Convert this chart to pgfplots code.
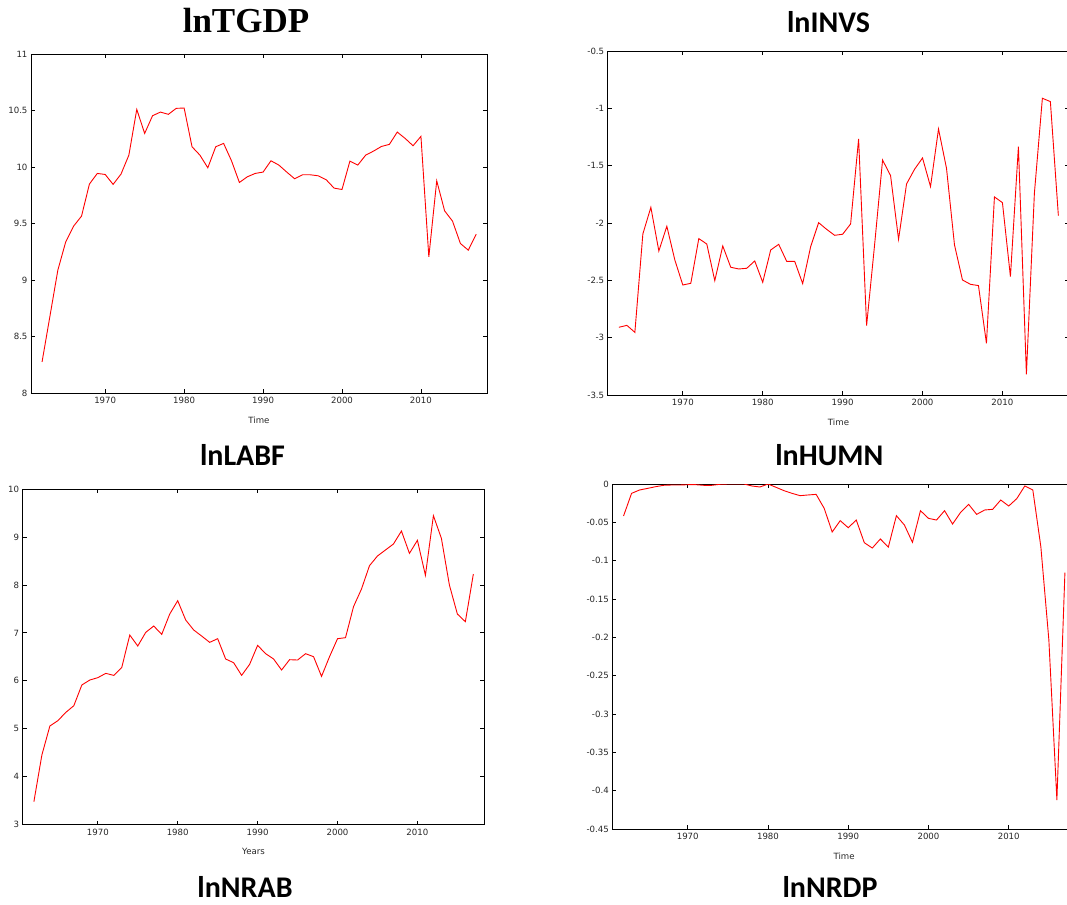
\documentclass[border=0pt]{standalone}
\usepackage{fontspec}
\setmainfont{DejaVu Sans}
\newfontfamily\titleserif{Liberation Serif}
\newfontfamily\titlesans{Carlito}
\usepackage{graphicx}
\usepackage{pgfplots}
\pgfplotsset{compat=1.18}
\pgfplotsset{gstyle/.style={
  scale only axis, anchor=north west,
  xmin=1960.6, xmax=2018.37,
  xtick={1970,1980,1990,2000,2010},
  xticklabels={1970,1980,1990,2000,2010},
  tick align=inside, major tick length=4pt,
  tick style={black, line width=0.8pt},
  axis line style={black, line width=0.9pt},
  tick label style={font=\fontsize{8.6}{9}\selectfont, text=black!85},
  xticklabel style={yshift=-1pt},
  xlabel style={font=\fontsize{8.6}{9}\selectfont, text=black!85, at={(axis description cs:0.5,0)}, anchor=center, yshift=-27pt},
  scaled ticks=false,
}}
\begin{document}
\begin{tikzpicture}
\useasboundingbox (0pt,0pt) rectangle (1067pt,-904pt);
% Panel 1: lnTGDP
\begin{axis}[gstyle, at={(31pt,-54pt)}, width=456pt, height=339pt,
  ymin=8, ymax=11, ytick={8,8.5,9,9.5,10,10.5,11},
  yticklabels={8,8.5,9,9.5,10,10.5,11}, xlabel={Time}]
\addplot[red, line width=0.9pt, no marks] table {
1962 8.275
1963 8.68
1964 9.087
1965 9.338
1966 9.477
1967 9.565
1968 9.849
1969 9.943
1970 9.934
1971 9.846
1972 9.937
1973 10.105
1974 10.51
1975 10.297
1976 10.454
1977 10.486
1978 10.466
1979 10.519
1980 10.522
1981 10.179
1982 10.105
1983 9.993
1984 10.179
1985 10.209
1986 10.055
1987 9.863
1988 9.913
1989 9.943
1990 9.955
1991 10.055
1992 10.017
1993 9.955
1994 9.896
1995 9.931
1996 9.931
1997 9.922
1998 9.887
1999 9.813
2000 9.801
2001 10.052
2002 10.017
2003 10.105
2004 10.141
2005 10.182
2006 10.2
2007 10.309
2008 10.253
2009 10.188
2010 10.271
2011 9.205
2012 9.878
2013 9.612
2014 9.521
2015 9.323
2016 9.264
2017 9.406
};
\end{axis}
% Panel 2: lnINVS
\begin{axis}[gstyle, at={(607.7pt,-51.3pt)}, width=461.6pt, height=343.7pt,
  ymin=-3.5, ymax=-0.5, ytick={-3.5,-3,-2.5,-2,-1.5,-1,-0.5},
  yticklabels={-3.5,-3,-2.5,-2,-1.5,-1,-0.5}, xlabel={Time}]
\addplot[red, line width=0.9pt, no marks] table {
1962 -2.909
1963 -2.892
1964 -2.953
1965 -2.094
1966 -1.862
1967 -2.243
1968 -2.027
1969 -2.321
1970 -2.540
1971 -2.525
1972 -2.135
1973 -2.182
1974 -2.502
1975 -2.199
1976 -2.385
1977 -2.400
1978 -2.394
1979 -2.330
1980 -2.516
1981 -2.234
1982 -2.185
1983 -2.333
1984 -2.333
1985 -2.528
1986 -2.205
1987 -1.996
1988 -2.054
1989 -2.106
1990 -2.097
1991 -2.007
1992 -1.265
1993 -2.895
1994 -2.19
1995 -1.449
1996 -1.585
1997 -2.141
1998 -1.658
1999 -1.530
2000 -1.431
2001 -1.681
2002 -1.178
2003 -1.521
2004 -2.190
2005 -2.496
2006 -2.534
2007 -2.545
2008 -3.049
2009 -1.771
2010 -1.821
2011 -2.467
2012 -1.332
2013 -3.319
2014 -1.739
2015 -0.910
2016 -0.939
2017 -1.934
};
\end{axis}
% Panel 3: lnNRAB
\begin{axis}[gstyle, at={(22.7pt,-489pt)}, width=461.6pt, height=335.7pt,
  ymin=3, ymax=10, ytick={3,4,5,6,7,8,9,10},
  yticklabels={3,4,5,6,7,8,9,10}, xlabel={Years}]
\addplot[red, line width=0.9pt, no marks] table {
1962 3.48
1963 4.453
1964 5.058
1965 5.169
1966 5.343
1967 5.482
1968 5.913
1969 6.017
1970 6.066
1971 6.156
1972 6.114
1973 6.281
1974 6.955
1975 6.726
1976 7.011
1977 7.143
1978 6.969
1979 7.393
1980 7.671
1981 7.268
1982 7.060
1983 6.934
1984 6.802
1985 6.879
1986 6.455
1987 6.378
1988 6.114
1989 6.344
1990 6.740
1991 6.566
1992 6.455
1993 6.226
1994 6.441
1995 6.434
1996 6.566
1997 6.504
1998 6.093
1999 6.504
2000 6.879
2001 6.900
2002 7.546
2003 7.915
2004 8.401
2005 8.603
2006 8.728
2007 8.853
2008 9.124
2009 8.658
2010 8.930
2011 8.200
2012 9.444
2013 8.971
2014 7.998
2015 7.393
2016 7.233
2017 8.227
};
\end{axis}
% Panel 4: lnNRDP
\begin{axis}[gstyle, at={(612.3pt,-484pt)}, width=463.6pt, height=345pt,
  ymin=-0.45, ymax=0, ytick={-0.45,-0.4,-0.35,-0.3,-0.25,-0.2,-0.15,-0.1,-0.05,0},
  yticklabels={-0.45,-0.4,-0.35,-0.3,-0.25,-0.2,-0.15,-0.1,-0.05,0}, xlabel={Time}]
\addplot[red, line width=0.9pt, no marks] table {
1962 -0.0417
1963 -0.0122
1964 -0.0078
1965 -0.0057
1966 -0.0035
1967 -0.0017
1968 -0.0013
1969 -0.0013
1970 -0.0009
1971 -0.0009
1972 -0.0017
1973 -0.0017
1974 -0.0004
1975 0
1976 0
1977 0
1978 -0.0026
1979 -0.0039
1980 0
1981 -0.0043
1982 -0.0087
1983 -0.0122
1984 -0.0152
1985 -0.0143
1986 -0.0135
1987 -0.0317
1988 -0.0626
1989 -0.0478
1990 -0.0570
1991 -0.0470
1992 -0.0765
1993 -0.0835
1994 -0.0717
1995 -0.0822
1996 -0.0413
1997 -0.0535
1998 -0.0761
1999 -0.0348
2000 -0.0448
2001 -0.0470
2002 -0.0348
2003 -0.0522
2004 -0.0370
2005 -0.0265
2006 -0.0396
2007 -0.0339
2008 -0.0330
2009 -0.0209
2010 -0.0287
2011 -0.0191
2012 -0.0026
2013 -0.0078
2014 -0.0817
2015 -0.2035
2016 -0.4122
2017 -0.1157
};
\end{axis}
% Titles
\node[anchor=base, inner sep=0pt] at (246pt,-33pt) {\titleserif\bfseries\fontsize{35}{35}\selectfont lnTGDP};
\node[anchor=base, inner sep=0pt] at (828.5pt,-32.3pt) {\titlesans\bfseries\fontsize{30}{30}\selectfont lnINVS};
\node[anchor=base, inner sep=0pt] at (242.5pt,-465pt) {\titlesans\bfseries\fontsize{30}{30}\selectfont lnLABF};
\node[anchor=base, inner sep=0pt] at (829.3pt,-465pt) {\titlesans\bfseries\fontsize{30}{30}\selectfont lnHUMN};
\node[anchor=base, inner sep=0pt] at (245pt,-897pt) {\titlesans\bfseries\fontsize{30}{30}\selectfont lnNRAB};
\node[anchor=base, inner sep=0pt] at (830pt,-897pt) {\titlesans\bfseries\fontsize{30}{30}\selectfont lnNRDP};
\end{tikzpicture}
\end{document}
